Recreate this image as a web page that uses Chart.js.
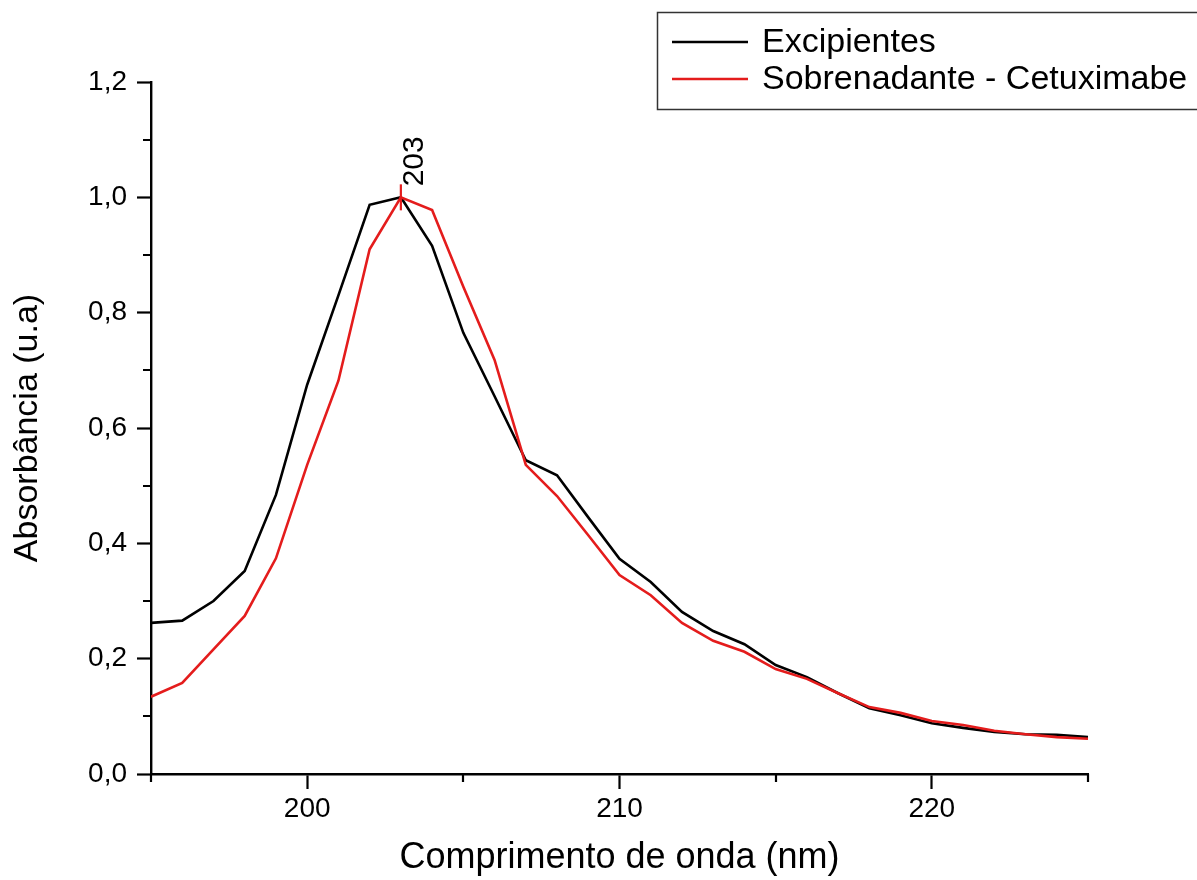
<!DOCTYPE html>
<html>
<head>
<meta charset="utf-8">
<script src="https://cdn.jsdelivr.net/npm/chart.js@4"></script>
<style>
  body { margin: 0; background: #fff; overflow: hidden; }
  canvas { display: block; }
</style>
</head>
<body>
<canvas id="espectro" width="1197" height="880"></canvas>
<script>
// comprimento de onda (nm)
const wavelengths = [195, 196, 197, 198, 199, 200, 201, 202, 203, 204, 205, 206, 207, 208, 209, 210,
    211, 212, 213, 214, 215, 216, 217, 218, 219, 220, 221, 222, 223, 224, 225];

// absorbância - excipientes
const excipientes = [0.262, 0.266, 0.300, 0.352, 0.484, 0.675, 0.830, 0.987, 1.000, 0.916, 0.765,
    0.655, 0.544, 0.518, 0.445, 0.373, 0.333, 0.281, 0.248, 0.225, 0.189, 0.168, 0.140, 0.114,
    0.102, 0.088, 0.080, 0.073, 0.069, 0.068, 0.064];

// absorbância - sobrenadante
const sobrenadante = [0.134, 0.158, 0.216, 0.274, 0.374, 0.536, 0.682, 0.910, 1.000, 0.978, 0.845,
    0.718, 0.536, 0.482, 0.414, 0.345, 0.310, 0.262, 0.231, 0.212, 0.182, 0.165, 0.140, 0.116,
    0.106, 0.092, 0.085, 0.075, 0.069, 0.064, 0.061];

// pico marcado
const peakWavelength = 203;

// ticks dos eixos
const xMajorTicks = [200, 210, 220];
const xMinorTicks = [195, 205, 215, 225];
const yMajorTicks = [0, 0.2, 0.4, 0.6, 0.8, 1.0, 1.2];
const yMinorTicks = [0.1, 0.3, 0.5, 0.7, 0.9, 1.1];

const FONT = "'Liberation Sans', Arial, sans-serif";
const RED = '#e41c1c';

function toPoints(ys) {
    return wavelengths.map((x, i) => ({ x: x, y: ys[i] }));
}

function isMajor(list, v) {
    return list.some(t => Math.abs(t - v) < 1e-6);
}

// ticks menores (mais curtos) desenhados à mão
const minorTicksPlugin = {
    id: 'minorTicks',
    afterDraw(chart) {
        const ctx = chart.ctx;
        const xs = chart.scales.x, ys = chart.scales.y;
        const area = chart.chartArea;
        ctx.save();
        ctx.strokeStyle = '#000';
        ctx.lineWidth = 2.2;
        ctx.beginPath();
        xMinorTicks.forEach(v => {
            const px = Math.round(xs.getPixelForValue(v));
            ctx.moveTo(px, area.bottom);
            ctx.lineTo(px, area.bottom + 8);
        });
        yMinorTicks.forEach(v => {
            const py = Math.round(ys.getPixelForValue(v));
            ctx.moveTo(area.left - 8, py);
            ctx.lineTo(area.left, py);
        });
        ctx.stroke();
        ctx.restore();
    }
};

// marcação do pico (linha vertical + rótulo girado)
const peakPlugin = {
    id: 'peakLabel',
    afterDatasetsDraw(chart) {
        const ctx = chart.ctx;
        const idx = wavelengths.indexOf(peakWavelength);
        const px = chart.scales.x.getPixelForValue(peakWavelength);
        const py = chart.scales.y.getPixelForValue(sobrenadante[idx]);
        ctx.save();
        ctx.strokeStyle = RED;
        ctx.lineWidth = 2.2;
        ctx.beginPath();
        ctx.moveTo(px, py - 13);
        ctx.lineTo(px, py + 13);
        ctx.stroke();
        ctx.translate(px + 22, py - 11);
        ctx.rotate(-Math.PI / 2);
        ctx.fillStyle = '#000';
        ctx.font = '30px ' + FONT;
        ctx.textAlign = 'left';
        ctx.textBaseline = 'alphabetic';
        ctx.fillText(String(peakWavelength), 0, 0);
        ctx.restore();
    }
};

// legenda com moldura no canto superior direito
const boxLegendPlugin = {
    id: 'boxLegend',
    afterDraw(chart) {
        const ctx = chart.ctx;
        ctx.save();
        ctx.fillStyle = '#fff';
        ctx.fillRect(657, 12, 700, 98);
        ctx.strokeStyle = '#333';
        ctx.lineWidth = 1.5;
        ctx.strokeRect(657.5, 12.5, 700, 97);
        ctx.font = '34px ' + FONT;
        ctx.textBaseline = 'middle';
        ctx.textAlign = 'left';
        chart.data.datasets.forEach((ds, i) => {
            const y = 42 + i * 37;
            ctx.strokeStyle = ds.borderColor;
            ctx.lineWidth = 2.5;
            ctx.beginPath();
            ctx.moveTo(672, y);
            ctx.lineTo(748, y);
            ctx.stroke();
            ctx.fillStyle = '#000';
            ctx.fillText(ds.label, 762, y + 1);
        });
        ctx.restore();
    }
};

new Chart(document.getElementById('espectro'), {
    type: 'line',
    data: {
        datasets: [
            {
                label: 'Excipientes',
                data: toPoints(excipientes),
                borderColor: '#000',
                borderWidth: 2.6,
                pointRadius: 0,
                tension: 0,
                order: 1
            },
            {
                label: 'Sobrenadante - Cetuximabe',
                data: toPoints(sobrenadante),
                borderColor: RED,
                borderWidth: 2.6,
                pointRadius: 0,
                tension: 0,
                order: 0
            }
        ]
    },
    options: {
        responsive: false,
        animation: false,
        layout: { padding: { top: 82, right: 109, bottom: 0, left: 0 } },
        plugins: {
            legend: { display: false },
            tooltip: { enabled: false }
        },
        scales: {
            x: {
                type: 'linear',
                min: 195,
                max: 225,
                afterBuildTicks: s => { s.ticks = xMajorTicks.map(v => ({ value: v })); },
                afterFit: s => { s.height = 106; },
                border: { color: '#000', width: 2.4 },
                grid: {
                    drawOnChartArea: false,
                    tickLength: 15,
                    tickWidth: 2.2,
                    tickColor: '#000'
                },
                ticks: {
                    color: '#000',
                    padding: 3,
                    maxRotation: 0,
                    font: { family: FONT, size: 28 }
                },
                title: {
                    display: true,
                    text: 'Comprimento de onda (nm)',
                    color: '#000',
                    padding: { top: 0, bottom: 0 },
                    font: { family: FONT, size: 36 }
                }
            },
            y: {
                min: 0,
                max: 1.2,
                afterBuildTicks: s => { s.ticks = yMajorTicks.map(v => ({ value: v })); },
                afterFit: s => { s.width = 151; },
                border: { color: '#000', width: 2.4 },
                grid: {
                    drawOnChartArea: false,
                    tickLength: 14,
                    tickWidth: 2.2,
                    tickColor: '#000'
                },
                ticks: {
                    color: '#000',
                    padding: 10,
                    font: { family: FONT, size: 28 },
                    callback: v => isMajor(yMajorTicks, v) ? v.toFixed(1).replace('.', ',') : ''
                },
                title: {
                    display: true,
                    text: 'Absorbância (u.a)',
                    color: '#000',
                    padding: { top: 7, bottom: 0 },
                    font: { family: FONT, size: 34 }
                }
            }
        }
    },
    plugins: [minorTicksPlugin, peakPlugin, boxLegendPlugin]
});
</script>
</body>
</html>
